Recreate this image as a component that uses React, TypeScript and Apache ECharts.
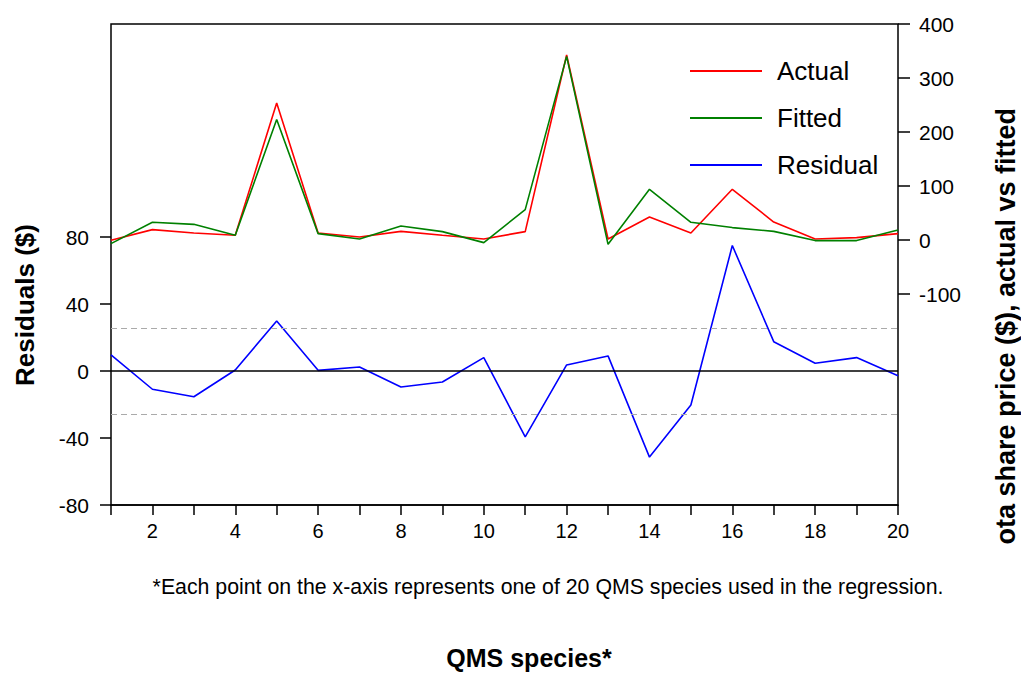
import React, { useEffect, useRef } from "react";
import * as echarts from "echarts";

const species = [1, 2, 3, 4, 5, 6, 7, 8, 9, 10, 11, 12, 13, 14, 15, 16, 17, 18, 19, 20];
const actual = [-0.6, 19.2, 13, 8.7, 253.7, 13, 5.6, 16, 8.7, 1.9, 15.5, 342.6, 1.9, 42.6, 13, 93.9, 33.3, 1.9, 4.4, 11.8];
const fitted = [-6.7, 32.8, 29, 8.7, 223, 11.8, 1.9, 26, 15.5, -4.9, 56.3, 340, -8, 93.9, 32.8, 23, 16, -1.1, -1.1, 18.5];
const residual = [9.6, -10.9, -15.4, 0.6, 29.9, 0.4, 2.4, -9.6, -6.6, 8.0, -39.3, 3.6, 9.0, -51.4, -20.3, 74.9, 17.5, 4.6, 8.0, -2.8];
const stdErr = 25.8;
const leftAxisRange = [-80, 80];
const rightAxisRange = [-100, 400];

const FONT = "'Liberation Sans', Arial, sans-serif";

export default function App() {
  const ref = useRef<HTMLDivElement>(null);
  useEffect(() => {
    document.body.style.margin = "0";
    const chart = echarts.init(ref.current!, null, { renderer: "svg" });
    const pairs = (ys: number[]) => species.map((x, i) => [x, ys[i]]);
    const gridPos = { left: 111, right: 123 };
    chart.setOption({
      animation: false,
      textStyle: { fontFamily: FONT, color: "#000" },
      grid: [
        { ...gridPos, top: 24, bottom: 168, show: true, borderColor: "#000", borderWidth: 1.5, backgroundColor: "transparent" },
        { ...gridPos, top: 237, bottom: 168 },
        { ...gridPos, top: 24, bottom: 379 },
      ],
      xAxis: [
        {
          gridIndex: 0, type: "value", min: 1, max: 20, interval: 1,
          axisLine: { show: true, lineStyle: { color: "#000", width: 1.5 } },
          axisTick: { show: true, inside: false, length: 10, lineStyle: { color: "#000", width: 1.5 } },
          axisLabel: {
            margin: 16, fontSize: 20, color: "#000", fontFamily: FONT,
            formatter: (v: number) => (v % 2 === 0 ? String(v) : ""),
          },
          splitLine: { show: false },
        },
        { gridIndex: 1, type: "value", min: 1, max: 20, show: false },
        { gridIndex: 2, type: "value", min: 1, max: 20, show: false },
      ],
      yAxis: [
        { gridIndex: 0, type: "value", min: 0, max: 1, show: false },
        {
          gridIndex: 1, type: "value", position: "left",
          min: leftAxisRange[0], max: leftAxisRange[1], interval: 40,
          axisLine: { show: false },
          axisTick: { show: true, inside: false, length: 11, lineStyle: { color: "#000", width: 1.5 } },
          axisLabel: { margin: 22, fontSize: 21, color: "#000", fontFamily: FONT },
          splitLine: { show: false },
        },
        {
          gridIndex: 2, type: "value", position: "right",
          min: rightAxisRange[0], max: rightAxisRange[1], interval: 100,
          axisLine: { show: false },
          axisTick: { show: true, inside: false, length: 12, lineStyle: { color: "#000", width: 1.5 } },
          axisLabel: { margin: 21, fontSize: 21, color: "#000", fontFamily: FONT },
          splitLine: { show: false },
        },
      ],
      legend: {
        orient: "vertical",
        left: 685,
        top: 53,
        itemWidth: 72,
        itemHeight: 2,
        itemGap: 21,
        icon: "rect",
        data: ["Actual", "Fitted", "Residual"],
        textStyle: { fontSize: 26, color: "#000", fontFamily: FONT, padding: [0, 0, 0, 10] },
      },
      series: [
        {
          name: "Residual", type: "line", xAxisIndex: 1, yAxisIndex: 1,
          data: pairs(residual), symbol: "none", color: "#0000ff",
          lineStyle: { color: "#0000ff", width: 1.6 }, z: 3,
          markLine: {
            silent: true, symbol: "none", label: { show: false },
            data: [
              { yAxis: 0, lineStyle: { color: "#000", width: 1.6, type: "solid" } },
              { yAxis: stdErr, lineStyle: { color: "#aaaaaa", width: 1.2, type: [6, 4] } },
              { yAxis: -stdErr, lineStyle: { color: "#aaaaaa", width: 1.2, type: [6, 4] } },
            ],
          },
        },
        {
          name: "Actual", type: "line", xAxisIndex: 2, yAxisIndex: 2,
          data: pairs(actual), symbol: "none", color: "#ff0000",
          lineStyle: { color: "#ff0000", width: 1.6 }, z: 4,
        },
        {
          name: "Fitted", type: "line", xAxisIndex: 2, yAxisIndex: 2,
          data: pairs(fitted), symbol: "none", color: "#008000",
          lineStyle: { color: "#008000", width: 1.6 }, z: 5,
        },
      ],
      graphic: [
        {
          type: "text", x: 25, y: 305, rotation: Math.PI / 2,
          style: { text: "Residuals ($)", font: `bold 26px ${FONT}`, fill: "#000", textAlign: "center", textVerticalAlign: "middle" },
        },
        {
          type: "text", x: 1006, y: 345, rotation: Math.PI / 2, z: 10,
          style: { text: "Quota share price ($), actual vs fitted", font: `bold 27px ${FONT}`, fill: "#000", textAlign: "center", textVerticalAlign: "middle" },
        },
        {
          type: "rect", z: 20, shape: { x: 990, y: 545, width: 31, height: 50 },
          style: { fill: "#ffffff" },
        },
        {
          type: "text", x: 548, y: 587,
          style: { text: "*Each point on the x-axis represents one of 20 QMS species used in the regression.", font: `21.3px ${FONT}`, fill: "#000", textAlign: "center", textVerticalAlign: "middle" },
        },
        {
          type: "text", x: 529, y: 658,
          style: { text: "QMS species*", font: `bold 25px ${FONT}`, fill: "#000", textAlign: "center", textVerticalAlign: "middle" },
        },
      ],
    });
    return () => chart.dispose();
  }, []);
  return <div ref={ref} style={{ width: 1021, height: 673 }} />;
}
